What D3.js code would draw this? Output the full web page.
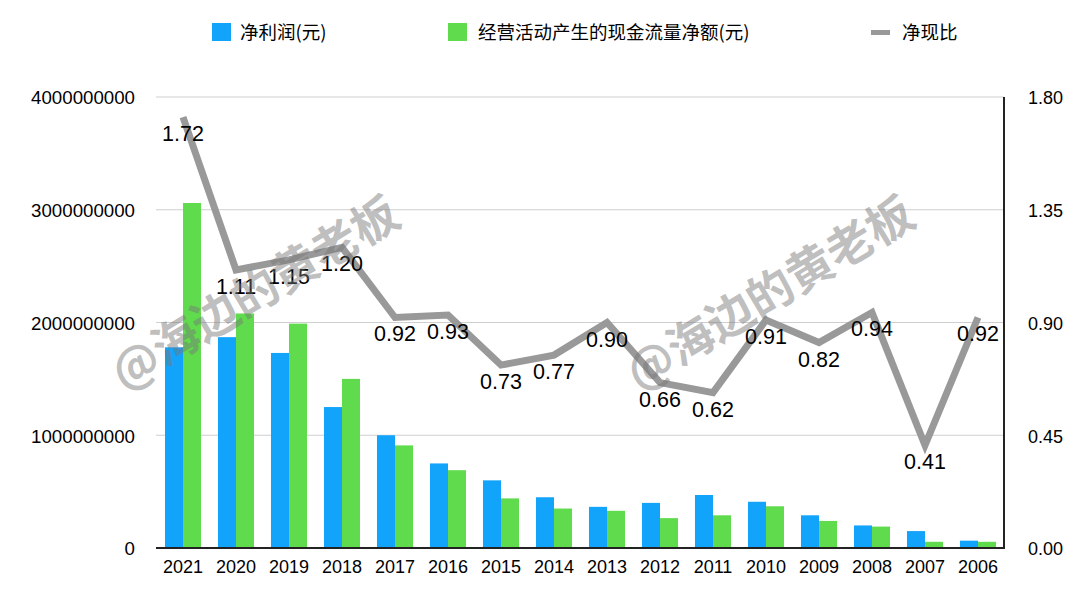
<!DOCTYPE html>
<html><head><meta charset="utf-8">
<script src="https://cdn.jsdelivr.net/npm/d3@7/dist/d3.min.js"></script>
<style>html,body{margin:0;padding:0;background:#fff}svg{display:block}
text{font-family:"Liberation Sans",Arial,sans-serif;fill:#000}
.cjk{font-family:"Noto Sans CJK SC","Liberation Sans",sans-serif}
.domain{display:none}</style></head><body>
<svg id="c" width="1080" height="601"></svg>
<script>
const years=["2021","2020","2019","2018","2017","2016","2015","2014","2013","2012","2011","2010","2009","2008","2007","2006"];
const profit=[1.78e9,1.87e9,1.73e9,1.25e9,1.0e9,0.75e9,0.6e9,0.45e9,0.365e9,0.4e9,0.47e9,0.41e9,0.29e9,0.2e9,0.15e9,0.065e9];
const cash=[3.06e9,2.08e9,1.99e9,1.5e9,0.91e9,0.69e9,0.44e9,0.35e9,0.33e9,0.265e9,0.29e9,0.37e9,0.24e9,0.19e9,0.055e9,0.055e9];
const ratio=[1.72,1.11,1.15,1.20,0.92,0.93,0.73,0.77,0.90,0.66,0.62,0.91,0.82,0.94,0.41,0.92];
const leftTicks=[0,1e9,2e9,3e9,4e9];
const rightTicks=[0,0.45,0.9,1.35,1.8];
const legendNames=["净利润(元)","经营活动产生的现金流量净额(元)","净现比"];
const watermark="@海边的黄老板";

const m={l:156,r:1004,t:97,b:548};
const svg=d3.select("#c");
const x=d3.scaleBand().domain(years).range([m.l+0.5,m.r+0.5]).paddingInner(0.32).paddingOuter(0.16);
const yL=d3.scaleLinear().domain([0,4e9]).range([m.b,m.t]);
const yR=d3.scaleLinear().domain([0,1.8]).range([m.b,m.t]);
const cx=d=>x(d)+x.bandwidth()/2;
const BLUE="#12a3fb",GREEN="#5fdb4d",GREY="#999";

svg.append("g").selectAll("line").data(leftTicks.slice(1)).join("line")
 .attr("x1",m.l).attr("x2",m.r).attr("y1",d=>yL(d)).attr("y2",d=>yL(d))
 .attr("stroke","#cfcfcf").attr("stroke-width",1.2);

const bars=svg.append("g");
bars.selectAll(".p").data(years).join("rect").attr("x",d=>x(d)).attr("width",x.bandwidth()/2)
 .attr("y",(d,i)=>yL(profit[i])).attr("height",(d,i)=>m.b-yL(profit[i])).attr("fill",BLUE);
bars.selectAll(".q").data(years).join("rect").attr("x",d=>cx(d)).attr("width",x.bandwidth()/2)
 .attr("y",(d,i)=>yL(cash[i])).attr("height",(d,i)=>m.b-yL(cash[i])).attr("fill",GREEN);

svg.append("line").attr("x1",m.l).attr("x2",m.r+1).attr("y1",m.b).attr("y2",m.b).attr("stroke","#222").attr("stroke-width",2);
svg.append("line").attr("x1",m.r).attr("x2",m.r).attr("y1",m.t).attr("y2",m.b).attr("stroke","#222").attr("stroke-width",2);

const ax=svg.append("g").attr("transform",`translate(0,${m.b})`).call(d3.axisBottom(x).tickSize(0).tickPadding(12));
ax.selectAll("text").attr("font-size",18).style("font-family",'"Liberation Sans"');
const al=svg.append("g").attr("transform",`translate(${m.l},1)`).call(d3.axisLeft(yL).tickValues(leftTicks).tickFormat(d3.format("d")).tickSize(0).tickPadding(21));
al.selectAll("text").attr("font-size",18.7).style("font-family",'"Liberation Sans"');
const ar=svg.append("g").attr("transform",`translate(${m.r},1)`).call(d3.axisRight(yR).tickValues(rightTicks).tickFormat(d3.format(".2f")).tickSize(0).tickPadding(24));
ar.selectAll("text").attr("font-size",18).style("font-family",'"Liberation Sans"');

svg.append("path").attr("fill","none").attr("stroke",GREY).attr("stroke-width",7).attr("stroke-linejoin","miter")
 .attr("d",d3.line().x((d,i)=>cx(years[i])).y(d=>yR(d))(ratio));

svg.append("g").selectAll("text").data(ratio).join("text")
 .attr("x",(d,i)=>cx(years[i])).attr("y",d=>yR(d)+24).attr("text-anchor","middle")
 .attr("font-size",21.5).text(d=>d.toFixed(2));

// legend
const lg=svg.append("g");
const lgX=[212,448,871];
[BLUE,GREEN].forEach((c,i)=>lg.append("rect").attr("x",lgX[i]).attr("y",23).attr("width",19).attr("height",18).attr("fill",c));
lg.append("line").attr("x1",lgX[2]).attr("x2",lgX[2]+19).attr("y1",32.5).attr("y2",32.5).attr("stroke",GREY).attr("stroke-width",5);
legendNames.forEach((n,i)=>lg.append("text").attr("class","cjk").attr("x",lgX[i]+[28,30,31][i]).attr("y",39).attr("font-size",18.5).attr("fill","#222").text(n));

// watermarks
[[124,391],[639,391]].forEach(p=>svg.append("text").attr("class","cjk")
 .attr("transform",`translate(${p[0]},${p[1]}) rotate(-31)`)
 .attr("font-size",46.5).attr("font-weight",700).style("fill","rgba(120,120,120,0.47)").text(watermark));
</script></body></html>
